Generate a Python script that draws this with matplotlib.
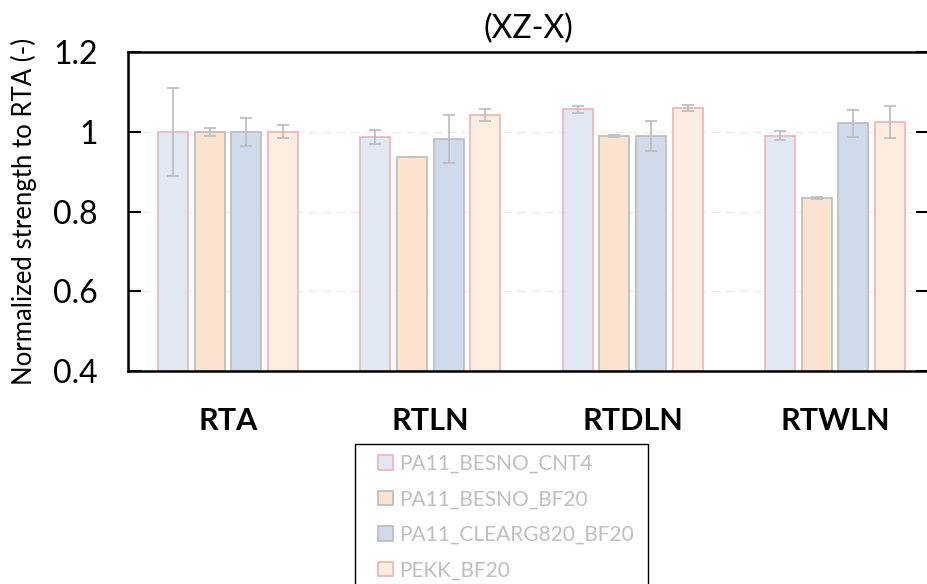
import numpy as np
import matplotlib.pyplot as plt
from matplotlib.patches import Rectangle

plt.rcParams['font.family'] = ['Lato', 'DejaVu Sans']

categories = ['RTA', 'RTLN', 'RTDLN', 'RTWLN']
series = ['PA11_BESNO_CNT4', 'PA11_BESNO_BF20', 'PA11_CLEARG820_BF20', 'PEKK_BF20']

cnt4 = [1.0, 0.987, 1.056, 0.990]
cnt4_err = [0.11, 0.017, 0.008, 0.011]
besno_bf20 = [1.0, 0.937, 0.990, 0.834]
besno_bf20_err = [0.01, 0.0, 0.002, 0.003]
clear_bf20 = [1.0, 0.981, 0.990, 1.021]
clear_bf20_err = [0.035, 0.06, 0.038, 0.034]
pekk = [1.0, 1.041, 1.059, 1.025]
pekk_err = [0.016, 0.015, 0.007, 0.04]

values = [cnt4, besno_bf20, clear_bf20, pekk]
errors = [cnt4_err, besno_bf20_err, clear_bf20_err, pekk_err]
fills = ['#dfe8f3', '#fce3cf', '#cfdbeb', '#fdeee1']
edges = ['#f4b6b8', '#bfbfbf', '#bfbfbf', '#f4b6b8']

fig = plt.figure(figsize=(9.28, 5.84), dpi=100)
ax = fig.add_axes([128/928, 1-371/584, 800/928, 319/584])

x = np.arange(len(categories))
width = 0.148
pitch = 0.181
for i in range(4):
    pos = x + (i - 1.5) * pitch
    ax.bar(pos, np.array(values[i]) - 0.4, width, bottom=0.4, color=fills[i],
           edgecolor=edges[i], linewidth=1.3, label=series[i], zorder=2)
    ax.errorbar(pos, values[i], yerr=errors[i], fmt='none', ecolor='#bfbfbf',
                elinewidth=1.3, capsize=4, capthick=1.3, zorder=3)

ax.set_ylim(0.4, 1.2)
ax.set_xlim(-0.494, 3.46)
ax.set_yticks([0.4, 0.6, 0.8, 1.0, 1.2])
ax.set_yticklabels(['0.4', '0.6', '0.8', '1', '1.2'])
ax.set_xticks(x)
ax.set_xticklabels(categories, fontweight='bold')
ax.tick_params(axis='y', direction='in', length=9, width=1.5, labelsize=23, pad=22,
               right=True)
ax.tick_params(axis='x', length=0, labelsize=22, pad=26)
ax.yaxis.grid(True, linestyle=(0, (6, 4)), color='#ececec', linewidth=1, zorder=0)
ax.set_axisbelow(True)
for s in ax.spines.values():
    s.set_linewidth(1.8)
    s.set_color('black')

ax.set_ylabel('Normalized strength to RTA (-)', fontsize=18.5, labelpad=11)
ax.set_title('(XZ-X)', fontsize=23, pad=10)

# legend without its own frame, box drawn separately (cut by the bottom edge)
leg = fig.legend(loc='upper left', bbox_to_anchor=(378/928, 1-454/584),
                 fontsize=15, labelcolor='#bfbfbf', frameon=False,
                 handlelength=0.7, handleheight=0.7, handletextpad=0.3,
                 labelspacing=0.74, borderpad=0, borderaxespad=0)
fig.patches.append(Rectangle((355/928, 1-592/584), 293/928, 148/584,
                             transform=fig.transFigure, fill=False,
                             edgecolor='black', linewidth=1))

fig.savefig('out.png', dpi=100)
